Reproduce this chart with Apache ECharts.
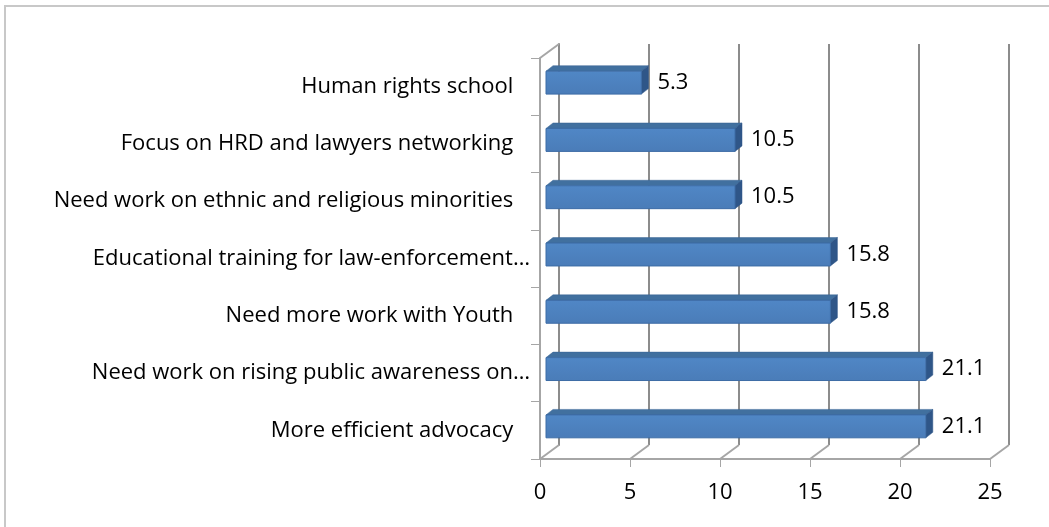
<!DOCTYPE html>
<html>
<head>
<meta charset="utf-8">
<script src="https://cdn.jsdelivr.net/npm/echarts@6/dist/echarts.min.js"></script>
<style>
  html, body { margin: 0; padding: 0; background: #fff; }
  #chart { width: 1049px; height: 527px; }
</style>
</head>
<body>
<div id="chart"></div>
<script>
const categories = [
    'Human rights school',
    'Focus on HRD and lawyers networking',
    'Need work on ethnic and religious minorities',
    'Educational training for law-enforcement…',
    'Need more work with Youth',
    'Need work on rising public awareness on…',
    'More efficient advocacy'
];
const values = [5.3, 10.5, 10.5, 15.8, 15.8, 21.1, 21.1];
const xTicks = [0, 5, 10, 15, 20, 25];

const chart = echarts.init(document.getElementById('chart'));

// depth of the fake 3D box and of the bars
const wallDx = 19, wallDy = -14;
const barDx = 7, barDy = -5.5;
const fontName = 'Open Sans';

const barData = values.map((v, i) => [v, i]);
const tickData = xTicks.map(t => [t, 0]);

const option = {
    animation: false,
    graphic: [{
        type: 'rect',
        shape: { x: 5, y: 6, width: 1100, height: 600 },
        style: { fill: 'none', stroke: '#c8c8c8', lineWidth: 2 },
        silent: true
    }],
    grid: [
        // front plane: axes and bars
        { left: 540, top: 58, width: 450, height: 401 },
        // back wall: gridlines
        { left: 559, top: 44, width: 450, height: 401 }
    ],
    xAxis: [
        {
            gridIndex: 0,
            type: 'value',
            min: xTicks[0],
            max: xTicks[xTicks.length - 1],
            interval: 5,
            axisLine: { show: true, lineStyle: { color: '#a6a6a6', width: 2 } },
            axisTick: { show: true, length: 8, lineStyle: { color: '#a6a6a6', width: 1 } },
            axisLabel: { color: '#000', fontSize: 22, fontFamily: fontName, margin: 23 },
            splitLine: { show: false }
        },
        {
            gridIndex: 1,
            type: 'value',
            min: xTicks[0],
            max: xTicks[xTicks.length - 1],
            interval: 5,
            axisLine: { show: false },
            axisTick: { show: false },
            axisLabel: { show: false },
            splitLine: { show: true, lineStyle: { color: '#8c8c8c', width: 2 } }
        }
    ],
    yAxis: [
        {
            gridIndex: 0,
            type: 'category',
            inverse: true,
            data: categories,
            axisLine: { show: true, lineStyle: { color: '#a6a6a6', width: 2 } },
            axisTick: { show: true, length: 9, lineStyle: { color: '#a6a6a6', width: 1 } },
            axisLabel: {
                color: '#000', fontSize: 22, fontFamily: fontName, margin: 10,
                padding: [0, 0, 5, 0],
                // full labels carry a trailing blank in the sheet, cut ones do not
                formatter: v => v.endsWith('…') ? v : v + '\u2002 '
            }
        },
        {
            gridIndex: 1,
            type: 'category',
            inverse: true,
            data: categories,
            axisLine: { show: true, lineStyle: { color: '#8c8c8c', width: 2 } },
            axisTick: { show: false },
            axisLabel: { show: false }
        }
    ],
    series: [
        {
            // floor and side-wall edges joining front axes to the back wall
            type: 'custom',
            xAxisIndex: 0,
            yAxisIndex: 0,
            silent: true,
            data: tickData,
            encode: { x: 0, y: 1 },
            renderItem: (params, api) => {
                const sys = params.coordSys;
                const x = api.coord([api.value(0), 0])[0];
                const bottom = sys.y + sys.height;
                const lines = [{
                    type: 'line',
                    shape: { x1: x, y1: bottom, x2: x + wallDx, y2: bottom + wallDy },
                    style: { stroke: '#a6a6a6', lineWidth: 2 }
                }];
                if (api.value(0) === xTicks[0]) {
                    lines.push({
                        type: 'line',
                        shape: { x1: x, y1: sys.y, x2: x + wallDx, y2: sys.y + wallDy },
                        style: { stroke: '#a6a6a6', lineWidth: 2 }
                    });
                }
                return { type: 'group', children: lines };
            }
        },
        {
            type: 'custom',
            xAxisIndex: 0,
            yAxisIndex: 0,
            data: barData,
            encode: { x: 0, y: 1 },
            renderItem: (params, api) => {
                const idx = api.value(1);
                const start = api.coord([0, idx]);
                const end = api.coord([api.value(0), idx]);
                const band = api.size([0, 1])[1];
                const h = band * 0.4;
                const x0 = start[0] + 6;
                const x1 = end[0] + 6;
                const yc = start[1] - 4;
                const yt = yc - h / 2;
                const yb = yc + h / 2;
                return {
                    type: 'group',
                    children: [
                        {
                            type: 'polygon',
                            shape: { points: [[x0, yt], [x1, yt], [x1 + barDx, yt + barDy], [x0 + barDx, yt + barDy]] },
                            style: { fill: '#41709f', stroke: '#3a6594', lineWidth: 0.5 }
                        },
                        {
                            type: 'polygon',
                            shape: { points: [[x1, yt], [x1 + barDx, yt + barDy], [x1 + barDx, yb + barDy], [x1, yb]] },
                            style: { fill: '#2f5688', stroke: '#2f5688', lineWidth: 0.5 }
                        },
                        {
                            type: 'rect',
                            shape: { x: x0, y: yt, width: x1 - x0, height: h },
                            style: {
                                fill: new echarts.graphic.LinearGradient(0, 0, 0, 1, [
                                    { offset: 0, color: '#5087c6' },
                                    { offset: 1, color: '#4a7cb8' }
                                ]),
                                stroke: '#3d6ca6',
                                lineWidth: 1
                            }
                        },
                        {
                            type: 'text',
                            style: {
                                text: String(api.value(0)),
                                x: x1 + barDx + 9,
                                y: yc,
                                align: 'left',
                                verticalAlign: 'middle',
                                fill: '#000',
                                fontSize: 22,
                                fontFamily: fontName
                            }
                        }
                    ]
                };
            }
        }
    ]
};

chart.setOption(option);

window.addEventListener('resize', _ => {
    chart.resize();
});
</script>
</body>
</html>
